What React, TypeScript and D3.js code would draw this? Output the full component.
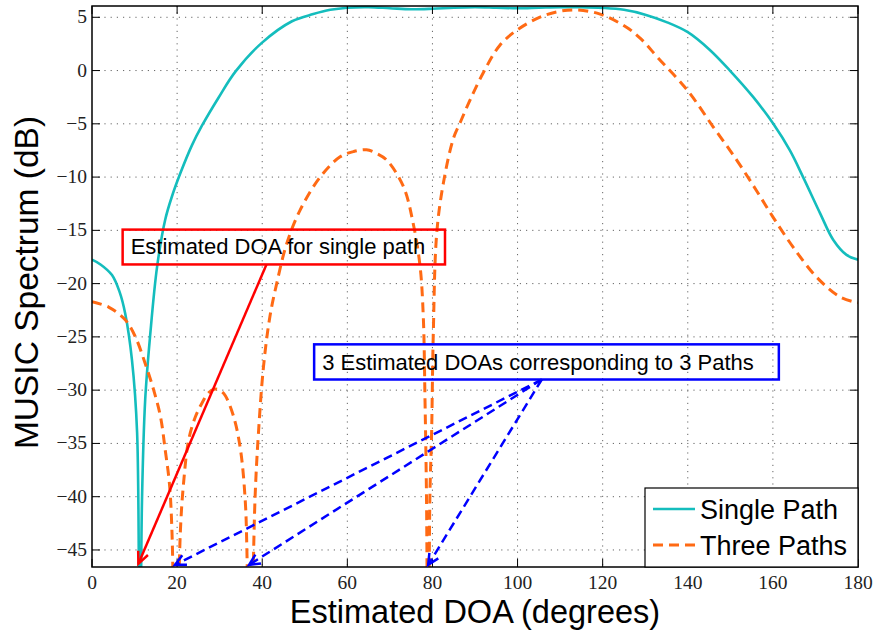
import React from 'react'
import * as d3 from 'd3'

// chart values
const xTicks = [0, 20, 40, 60, 80, 100, 120, 140, 160, 180]
const yTicks = [-45, -40, -35, -30, -25, -20, -15, -10, -5, 0, 5]
const seriesNames = ['Single Path', 'Three Paths']

const singleDeg = [0, 2, 4.7, 6.5, 7.8, 9.4, 10.6, 11.2, 11.75, 12.5, 13.7, 15.3, 17.2, 18.8, 20.8, 23.5, 25.8, 29.8, 33.7, 39.9, 47, 52, 56, 60, 65, 70, 75, 80, 85, 90, 95, 100, 105, 110, 115, 120, 125, 130, 135, 140, 145, 149.9, 155.4, 160.1, 164, 167.1, 171.1, 174.2, 177.3, 180]
const singleDb = [-17.75, -18.2, -19.2, -20.8, -22.8, -27.2, -34, -62, -40.3, -30.9, -24.7, -18.4, -14, -11.8, -9.6, -7.0, -5.2, -2.5, -0.1, 2.6, 4.63, 5.3, 5.7, 5.9, 5.95, 5.85, 5.75, 5.8, 5.9, 5.95, 5.9, 5.85, 5.9, 5.95, 5.95, 5.88, 5.7, 5.25, 4.55, 3.6, 2.0, 0, -2.5, -5, -7.5, -10, -13.4, -15.9, -17.3, -17.75]

const threeDeg = [0, 3.9, 7.8, 10.2, 12.5, 14.5, 16.1, 17.2, 18.2, 18.8, 19.7, 20.75, 21.5, 22.7, 24.3, 25.8, 27.5, 29, 30.3, 31.3, 33.3, 34.9, 36, 36.4, 37, 38.3, 39.1, 40.3, 41.8, 43.4, 45.75, 48.9, 53.6, 58.3, 61.5, 64.5, 67, 69.25, 73.2, 75.5, 77.1, 77.85, 78.25, 78.6, 79, 79.4, 79.8, 80.2, 81, 82.55, 84.9, 86.5, 88.8, 91.95, 95.9, 100.6, 106.8, 113.1, 119.4, 125.6, 129, 133, 140, 146, 151.5, 156.2, 160.1, 164.8, 170.3, 175.8, 180]
const threeDb = [-21.7, -22.2, -23.4, -25, -27.5, -30.0, -32.5, -35.6, -38.8, -43.4, -62, -43.4, -38.8, -34.7, -32.5, -31.25, -30.2, -29.9, -30.1, -30.5, -32.5, -35.6, -40.3, -45, -62, -40.3, -34.1, -27.8, -23.1, -20, -16.25, -13.1, -10, -8.1, -7.6, -7.44, -7.8, -8.4, -10.9, -14.4, -18.4, -23.1, -30.9, -40, -62, -40, -34.1, -24.7, -15.3, -10.6, -6.4, -4.9, -2.8, -0.2, 2.4, 4.0, 5.25, 5.69, 5.3, 4.06, 2.97, 1.2, -1.9, -5.3, -8.4, -11.3, -13.8, -16.6, -19.4, -21.25, -21.8]

// annotations, in data units (degrees, dB)
const singleNote = 'Estimated DOA for single path'
const singleNoteBox = [7.2, -14.93, 82.95, -18.2]
const singleArrowFrom = [41.0, -18.2]
const singleArrowTo = [10.9, -46.3]

const multiNote = '3 Estimated DOAs corresponding to 3 Paths'
const multiNoteBox = [52.2, -25.7, 161.4, -29.0]
const multiArrowFrom = [105.7, -29.0]
const multiArrowTo = [19.5, 36.9, 79.0]
const multiArrowToDb = -46.4

const W = 878, H = 631
const plot = { left: 92, top: 6, right: 858, bottom: 567 }
const teal = '#14bdbd'
const orange = '#ff6a14'

function head(fx: number, fy: number, tx: number, ty: number, len = 13, spread = 0.42) {
  const a = Math.atan2(ty - fy, tx - fx)
  const p1 = [tx - len * Math.cos(a - spread), ty - len * Math.sin(a - spread)]
  const p2 = [tx - len * Math.cos(a + spread), ty - len * Math.sin(a + spread)]
  return `M${p1[0]},${p1[1]}L${tx},${ty}L${p2[0]},${p2[1]}`
}

export default function App() {
  const x = d3.scaleLinear().domain([0, 180]).range([plot.left, plot.right])
  const y = d3.scaleLinear().domain([-46.6, 6.06]).range([plot.bottom, plot.top])
  const line = d3.line<[number, number]>()
    .x(d => x(d[0]))
    .y(d => y(d[1]))
    .curve(d3.curveCatmullRom.alpha(0.5))

  const singlePath = line(singleDeg.map((d, i) => [d, singleDb[i]]))
  const threePath = line(threeDeg.map((d, i) => [d, threeDb[i]]))

  const tick = 8
  const serif = '"Liberation Serif", "DejaVu Serif", serif'
  const sans = '"Liberation Sans", Arial, sans-serif'

  const rf = [x(singleArrowFrom[0]), y(singleArrowFrom[1])]
  const rt = [x(singleArrowTo[0]), y(singleArrowTo[1])]
  const bf = [x(multiArrowFrom[0]), y(multiArrowFrom[1])]

  const legendX = 645, legendY = 488, legendW = plot.right - 645, legendH = plot.bottom - 488

  return (
    <svg width={W} height={H} style={{ position: 'absolute', left: 0, top: 0, background: '#fff' }}>
      <defs>
        <clipPath id="plotclip">
          <rect x={plot.left} y={plot.top - 2} width={plot.right - plot.left} height={plot.bottom - plot.top + 2} />
        </clipPath>
      </defs>
      <rect width={W} height={H} fill="#fff" />
      {/* grid */}
      <g stroke="#666" strokeWidth={1} strokeDasharray="1.2 5">
        {xTicks.slice(1, -1).map(t => (
          <line key={'gx' + t} x1={x(t)} x2={x(t)} y1={plot.top} y2={plot.bottom} />
        ))}
        {yTicks.map(t => (
          <line key={'gy' + t} x1={plot.left} x2={plot.right} y1={y(t)} y2={y(t)} />
        ))}
      </g>
      {/* curves */}
      <g clipPath="url(#plotclip)" fill="none">
        <path d={singlePath || ''} stroke={teal} strokeWidth={2.6} />
        <path d={threePath || ''} stroke={orange} strokeWidth={3} strokeDasharray="10 6" />
      </g>
      {/* ticks */}
      <g stroke="#000" strokeWidth={1}>
        {xTicks.map(t => (
          <g key={'tx' + t}>
            <line x1={x(t)} x2={x(t)} y1={plot.bottom} y2={plot.bottom - tick} />
            <line x1={x(t)} x2={x(t)} y1={plot.top} y2={plot.top + tick} />
          </g>
        ))}
        {yTicks.map(t => (
          <g key={'ty' + t}>
            <line x1={plot.left} x2={plot.left + tick} y1={y(t)} y2={y(t)} />
            <line x1={plot.right} x2={plot.right - tick} y1={y(t)} y2={y(t)} />
          </g>
        ))}
      </g>
      <rect x={plot.left} y={plot.top} width={plot.right - plot.left} height={plot.bottom - plot.top} fill="none" stroke="#000" strokeWidth={1.5} />
      {/* tick labels */}
      <g fontFamily={serif} fontSize={19.5} fill="#222">
        {xTicks.map(t => (
          <text key={'lx' + t} x={x(t)} y={589} textAnchor="middle">{t}</text>
        ))}
        {yTicks.map(t => (
          <text key={'ly' + t} x={87} y={y(t) + 6} textAnchor="end">{t < 0 ? '\u2212' + Math.abs(t) : t}</text>
        ))}
      </g>
      {/* axis titles */}
      <text x={(plot.left + plot.right) / 2} y={623} textAnchor="middle" fontFamily={sans} fontSize={32.5} fill="#000">Estimated DOA (degrees)</text>
      <text transform={`translate(38,${(plot.top + plot.bottom) / 2 - 4}) rotate(-90)`} textAnchor="middle" fontFamily={sans} fontSize={33.5} fill="#000">MUSIC Spectrum (dB)</text>

      {/* single path annotation */}
      <rect x={x(singleNoteBox[0])} y={y(singleNoteBox[1])} width={x(singleNoteBox[2]) - x(singleNoteBox[0])} height={y(singleNoteBox[3]) - y(singleNoteBox[1])} fill="none" stroke="#ff0000" strokeWidth={2.5} />
      <text x={x(singleNoteBox[0]) + 8} y={y(singleNoteBox[3]) - 10} fontFamily={sans} fontSize={22} fill="#000">{singleNote}</text>
      <line x1={rf[0]} y1={rf[1]} x2={rt[0]} y2={rt[1]} stroke="#ff0000" strokeWidth={2.5} />
      <path d={head(rf[0], rf[1], rt[0], rt[1])} fill="none" stroke="#ff0000" strokeWidth={2.5} />

      {/* three paths annotation */}
      <rect x={x(multiNoteBox[0])} y={y(multiNoteBox[1])} width={x(multiNoteBox[2]) - x(multiNoteBox[0])} height={y(multiNoteBox[3]) - y(multiNoteBox[1])} fill="none" stroke="#0000ff" strokeWidth={2.5} />
      <text x={x(multiNoteBox[0]) + 8} y={y(multiNoteBox[3]) - 10} fontFamily={sans} fontSize={22} fill="#000">{multiNote}</text>
      {multiArrowTo.map(d => {
        const tx = x(d), ty = y(multiArrowToDb)
        return (
          <g key={'ba' + d} stroke="#0000ff" strokeWidth={2.5} fill="none">
            <line x1={bf[0]} y1={bf[1]} x2={tx} y2={ty} strokeDasharray="9 5" />
            <path d={head(bf[0], bf[1], tx, ty, 12, 0.45)} />
          </g>
        )
      })}

      {/* legend */}
      <rect x={legendX} y={legendY} width={legendW} height={legendH} fill="#fff" stroke="#000" strokeWidth={1.2} />
      <line x1={653} x2={695} y1={509} y2={509} stroke={teal} strokeWidth={2.6} />
      <line x1={653} x2={695} y1={545} y2={545} stroke={orange} strokeWidth={3} strokeDasharray="10 6" />
      <text x={700} y={519} fontFamily={sans} fontSize={27} fill="#000">{seriesNames[0]}</text>
      <text x={700} y={555} fontFamily={sans} fontSize={27} fill="#000">{seriesNames[1]}</text>
    </svg>
  )
}
